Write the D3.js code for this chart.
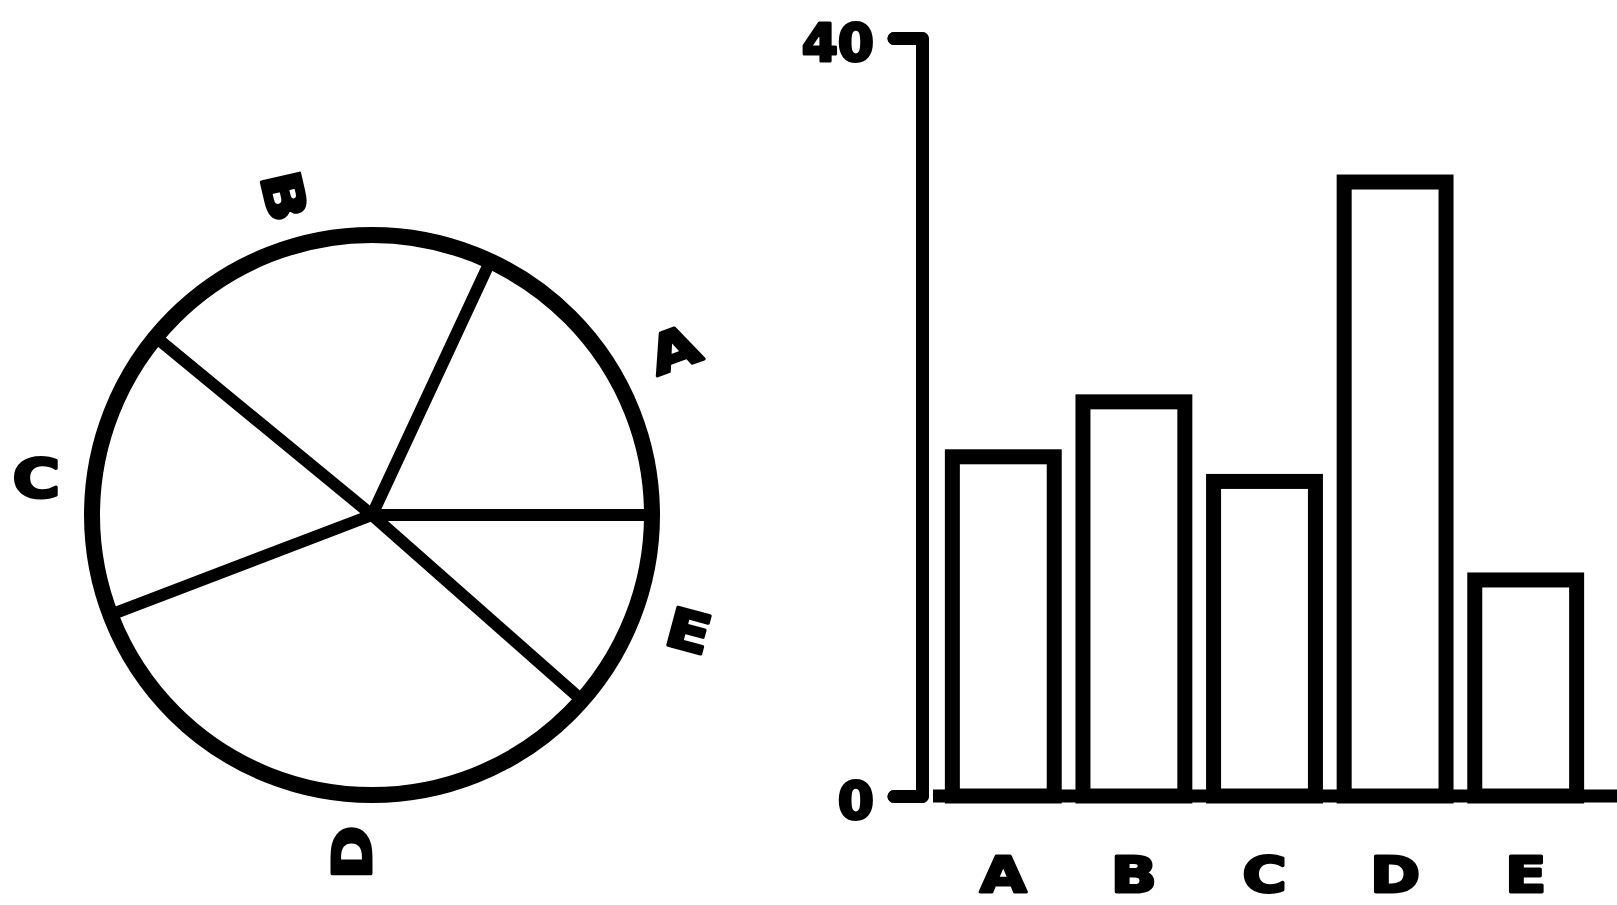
<!DOCTYPE html>
<html>
<head>
<meta charset="utf-8">
<script src="https://cdn.jsdelivr.net/npm/d3@7"></script>
<style>
  body { margin: 0; background: #fff; }
  svg { display: block; }
  text { font-family: "DejaVu Sans", sans-serif; font-weight: bold; fill: #000; }
</style>
</head>
<body>
<div id="viz"></div>
<script>
// data
const categories = ['A', 'B', 'C', 'D', 'E'];
const values = [17.9, 20.8, 16.6, 32.4, 11.4];
const yTicks = [0, 40];

const WIDTH = 1617;
const HEIGHT = 905;
const INK = '#000';
const WIDEN = 1.2; // original lettering is wider than DejaVu Bold

// pie layout
const PIE = { cx: 372, cy: 515, r: 280, labelR: 335 };
// letters around the pie are placed and turned by hand in the original
const labelTilt = { A: -20, B: 77, C: 0, D: -90, E: 15 };
const labelNudge = { A: [20, 15], B: [-14, 8], C: [-5, 17], D: [40, 8], E: [3, -2] };

// bar layout
const BAR = { left: 938, right: 1591, top: 38, bottom: 796, axisX: 922 };

// heavy lettering like the original
function heavy(sel, size) {
  sel.attr('font-size', size)
    .attr('font-family', '"DejaVu Sans", sans-serif')
    .attr('font-weight', 'bold')
    .attr('fill', INK)
    .attr('stroke', INK)
    .attr('stroke-width', 3)
    .attr('stroke-linejoin', 'round');
}

const svg = d3.select('#viz').append('svg')
  .attr('width', WIDTH)
  .attr('height', HEIGHT);

const rows = categories.map((c, i) => ({ cat: c, value: values[i] }));

// ---- pie ----
// A starts at 3 o'clock and slices run counterclockwise
const pie = d3.pie()
  .sort(null)
  .value(d => d.value)
  .startAngle(Math.PI / 2)
  .endAngle(Math.PI / 2 - 2 * Math.PI);
const arcs = pie(rows);

const pieG = svg.append('g')
  .attr('transform', `translate(${PIE.cx}, ${PIE.cy})`);

pieG.selectAll('.spoke')
  .data(arcs)
  .join('line')
  .attr('class', 'spoke')
  .attr('x1', 0)
  .attr('y1', 0)
  .attr('x2', d => d3.pointRadial(d.startAngle, PIE.r)[0])
  .attr('y2', d => d3.pointRadial(d.startAngle, PIE.r)[1])
  .attr('stroke', INK)
  .attr('stroke-width', 12)
  .attr('stroke-linecap', 'round');

pieG.append('circle')
  .attr('r', PIE.r)
  .attr('fill', 'none')
  .attr('stroke', INK)
  .attr('stroke-width', 16);

const labelArc = d3.arc().innerRadius(PIE.labelR).outerRadius(PIE.labelR);
pieG.selectAll('.plabel')
  .data(arcs)
  .join('text')
  .attr('class', 'plabel')
  .attr('transform', d => {
    const [x, y] = labelArc.centroid(d);
    const [nx, ny] = labelNudge[d.data.cat];
    return `translate(${x + nx}, ${y + ny}) rotate(${labelTilt[d.data.cat]}) scale(${WIDEN}, 1)`;
  })
  .attr('text-anchor', 'middle')
  .attr('dominant-baseline', 'central')
  .text(d => d.data.cat)
  .call(heavy, 54);

// ---- bars ----
const x = d3.scaleBand()
  .domain(categories)
  .range([BAR.left, BAR.right])
  .paddingInner(0.22)
  .paddingOuter(0.11);

const y = d3.scaleLinear()
  .domain([0, 40])
  .range([BAR.bottom, BAR.top]);

svg.selectAll('.bar')
  .data(rows)
  .join('rect')
  .attr('class', 'bar')
  .attr('x', d => x(d.cat))
  .attr('y', d => y(d.value))
  .attr('width', x.bandwidth())
  .attr('height', d => y(0) - y(d.value))
  .attr('fill', 'none')
  .attr('stroke', INK)
  .attr('stroke-width', 15);

// baseline
svg.append('line')
  .attr('x1', BAR.left - 5)
  .attr('x2', WIDTH)
  .attr('y1', y(0))
  .attr('y2', y(0))
  .attr('stroke', INK)
  .attr('stroke-width', 13);

// y axis: bracket with two ticks
const yAxis = d3.axisLeft(y)
  .tickValues(yTicks)
  .tickSize(28)
  .tickSizeOuter(28)
  .tickPadding(20);

const yG = svg.append('g')
  .attr('transform', `translate(${BAR.axisX}, 0)`)
  .call(yAxis);
yG.selectAll('path, line')
  .attr('stroke', INK)
  .attr('stroke-width', 13)
  .attr('stroke-linejoin', 'round')
  .attr('stroke-linecap', 'round')
  .attr('fill', 'none');
yG.selectAll('text')
  .attr('dy', 4)
  .attr('dominant-baseline', 'central')
  .call(heavy, 52);

// category labels
const xAxis = d3.axisBottom(x).tickSize(0).tickPadding(0);
const xG = svg.append('g')
  .attr('transform', `translate(0, ${y(0)})`)
  .call(xAxis);
xG.select('.domain').remove();
xG.selectAll('text')
  .attr('y', null)
  .attr('dy', null)
  .attr('transform', `translate(0, 79) scale(${WIDEN}, 1)`)
  .attr('dominant-baseline', 'central')
  .call(heavy, 50);
</script>
</body>
</html>
